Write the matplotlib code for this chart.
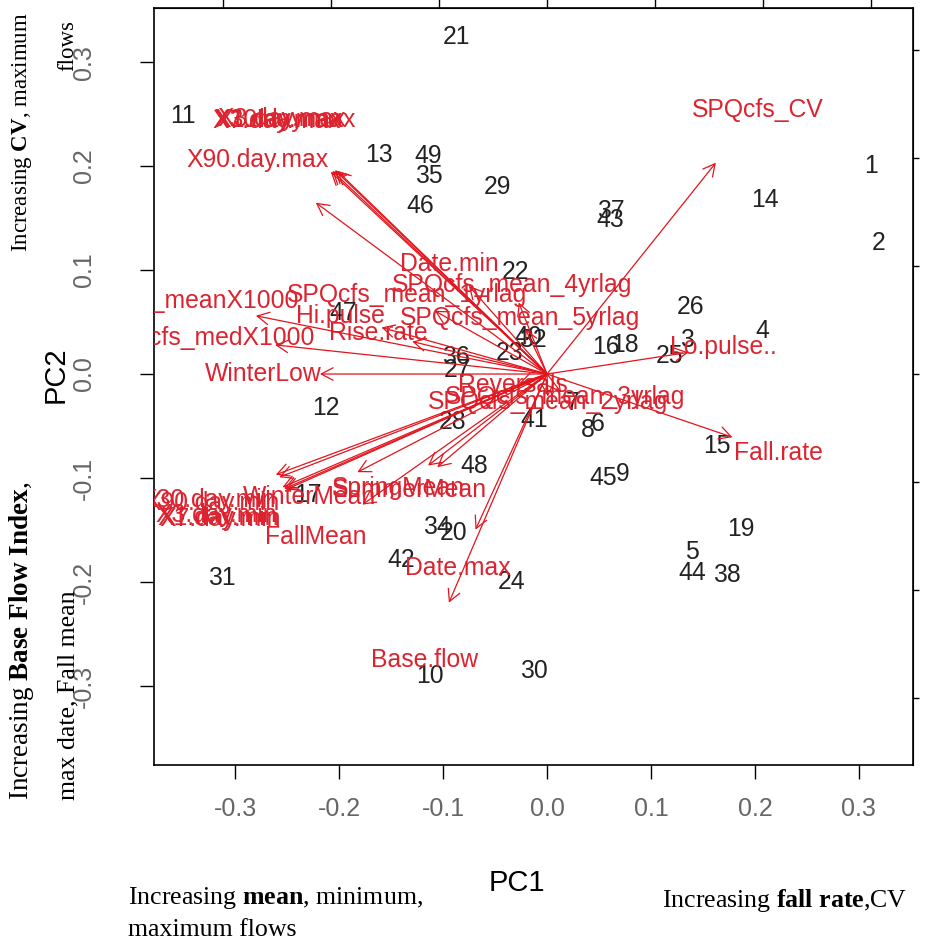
import matplotlib.pyplot as plt

plt.rcParams['font.family'] = ['Liberation Sans', 'DejaVu Sans']
plt.rcParams['mathtext.fontset'] = 'custom'
plt.rcParams['mathtext.rm'] = 'Liberation Serif'
plt.rcParams['mathtext.bf'] = 'Liberation Serif:bold'

# site scores (PC1, PC2)
site_ids = ['1', '2', '3', '4', '5', '6', '7', '8', '9', '10',
            '11', '12', '13', '14', '15', '16', '17', '18', '19', '20',
            '21', '22', '23', '24', '25', '26', '27', '28', '29', '30',
            '31', '32', '34', '35', '36', '37', '38', '40', '41', '42',
            '43', '44', '45', '46', '47', '48', '49']
pc1 = [0.3115, 0.319, 0.135, 0.207, 0.139, 0.049, 0.025, 0.039, 0.073, -0.113,
       -0.350, -0.213, -0.162, 0.210, 0.163, 0.057, -0.230, 0.075, 0.186, -0.090,
       -0.087, -0.030, -0.036, -0.034, 0.118, 0.138, -0.086, -0.091, -0.048, -0.013,
       -0.3125, -0.014, -0.106, -0.114, -0.088, 0.061, 0.173, -0.018, -0.012, -0.140,
       0.061, 0.140, 0.054, -0.122, -0.196, -0.070, -0.114]
pc2 = [0.200, 0.126, 0.033, 0.041, -0.171, -0.048, -0.028, -0.054, -0.096, -0.290,
       0.248, -0.033, 0.211, 0.167, -0.069, 0.026, -0.116, 0.028, -0.149, -0.153,
       0.324, 0.098, 0.020, -0.200, 0.017, 0.064, 0.004, -0.046, 0.180, -0.286,
       -0.196, 0.033, -0.147, 0.190, 0.016, 0.157, -0.193, 0.036, -0.044, -0.179,
       0.148, -0.191, -0.100, 0.162, 0.059, -0.088, 0.210]

# variable loadings (scaled to the plot)
var_names = ['X1.day.max', 'X3.day.max', 'X7.day.max', 'X30.day.max', 'X90.day.max',
             'Date.min', 'SPQcfs_mean_4yrlag', 'SPQcfs_mean_1yrlag', 'Hi.pulse',
             'SPQcfs_mean_5yrlag', 'Rise.rate', 'SPQcfs_meanX1000', 'SPQcfs_medX1000',
             'WinterLow', 'Lo.pulse..', 'SPQcfs_CV', 'Fall.rate', 'Reversals',
             'SPQcfs_mean_3yrlag', 'SPQcfs_mean_2yrlag',
             'X1.day.min', 'X3.day.min', 'X7.day.min', 'X30.day.min', 'X90.day.min',
             'WinterMean', 'SummerMean', 'SpringMean', 'FallMean', 'Date.max', 'Base.flow']
load1 = [-0.258, -0.255, -0.260, -0.252, -0.278,
         -0.094, -0.034, -0.135, -0.199,
         -0.026, -0.162, -0.350, -0.327,
         -0.273, 0.170, 0.203, 0.223, -0.033,
         0.017, 0.001,
         -0.316, -0.318, -0.314, -0.326, -0.322,
         -0.228, -0.132, -0.143, -0.222, -0.086, -0.118]
load2 = [0.244, 0.245, 0.243, 0.244, 0.206,
         0.106, 0.086, 0.076, 0.056,
         0.054, 0.039, 0.070, 0.035,
         0.000, 0.026, 0.254, -0.076, -0.011,
         -0.022, -0.027,
         -0.138, -0.136, -0.139, -0.121, -0.124,
         -0.118, -0.112, -0.110, -0.157, -0.187, -0.275]

ticks = [-0.3, -0.2, -0.1, 0.0, 0.1, 0.2, 0.3]
RED_TXT = '#dc2430'
RED_ARR = '#e3141c'

fig = plt.figure(figsize=(9.32, 9.43), dpi=100)
ax = fig.add_axes([154 / 932, 1 - 765 / 943, (913 - 154) / 932, (765 - 8) / 943])
ax.set_xlim(-0.378, 0.352)
ax.set_ylim(-0.376, 0.352)
for s in ax.spines.values():
    s.set_linewidth(1.2)

ax.set_xticks(ticks)
ax.set_xticklabels([f'{t:.1f}' for t in ticks])
ax.set_yticks(ticks)
ax.set_yticklabels([f'{t:.1f}' for t in ticks])
ax.tick_params(direction='out', length=10, width=1, labelcolor='#666666', labelsize=18)
ax.tick_params(axis='x', pad=13)
ax.tick_params(axis='y', pad=32, labelrotation=90)
for lab in ax.get_yticklabels():
    lab.set_va('center')

# loading axes on top and right
sx = ax.secondary_xaxis('top', functions=(lambda v: v / 1.038, lambda v: v * 1.038))
sx.set_xticks(ticks)
sx.set_xticklabels([])
sx.tick_params(direction='out', length=7, width=1)
sy = ax.secondary_yaxis('right', functions=(lambda v: v / 1.038, lambda v: v * 1.038))
sy.set_yticks(ticks)
sy.set_yticklabels([])
sy.tick_params(direction='out', length=4, width=1)

for lab, x, y in zip(site_ids, pc1, pc2):
    ax.text(x, y, lab, ha='center', va='center', fontsize=17.8, color='#222222', clip_on=True)

for name, lx, ly in zip(var_names, load1, load2):
    ax.annotate('', xy=(0.8 * lx, 0.8 * ly), xytext=(0, 0),
                arrowprops=dict(arrowstyle='->,head_length=0.85,head_width=0.45',
                                color=RED_ARR, lw=0.9, shrinkA=0, shrinkB=0))
    ax.text(lx, ly, name, ha='center', va='center', fontsize=17.8, color=RED_TXT, clip_on=True)

fig.text(517 / 932, 1 - 883 / 943, 'PC1', fontsize=21, ha='center', va='center')
fig.text(56 / 932, 1 - 375 / 943, 'PC2', fontsize=21, rotation=90, ha='center', va='center')

serif = dict(family='Liberation Serif', color='black')
fig.text(128 / 932, 1 - 898 / 943, r'Increasing $\mathbf{mean}$, minimum,', fontsize=18.6,
         ha='left', va='center', **serif)
fig.text(128 / 932, 1 - 930 / 943, 'maximum flows', fontsize=18.6, ha='left', va='center', **serif)
fig.text(662 / 932, 1 - 900 / 943, r'Increasing $\mathbf{fall}$ $\mathbf{rate}$,CV', fontsize=18.6,
         ha='left', va='center', **serif)
fig.text(22 / 932, 1 - 12 / 943, r'Increasing $\mathbf{CV}$, maximum', fontsize=16.5, rotation=90,
         ha='center', va='top', **serif)
fig.text(68 / 932, 1 - 20 / 943, 'flows', fontsize=16.5, rotation=90, ha='center', va='top', **serif)
fig.text(22 / 932, 1 - 800 / 943, r'Increasing $\mathbf{Base}$ $\mathbf{Flow}$ $\mathbf{Index}$,',
         fontsize=19.5, rotation=90, ha='center', va='bottom', **serif)
fig.text(68 / 932, 1 - 800 / 943, 'max date, Fall mean', fontsize=18.6, rotation=90,
         ha='center', va='bottom', **serif)

fig.savefig('out.png', dpi=100)
